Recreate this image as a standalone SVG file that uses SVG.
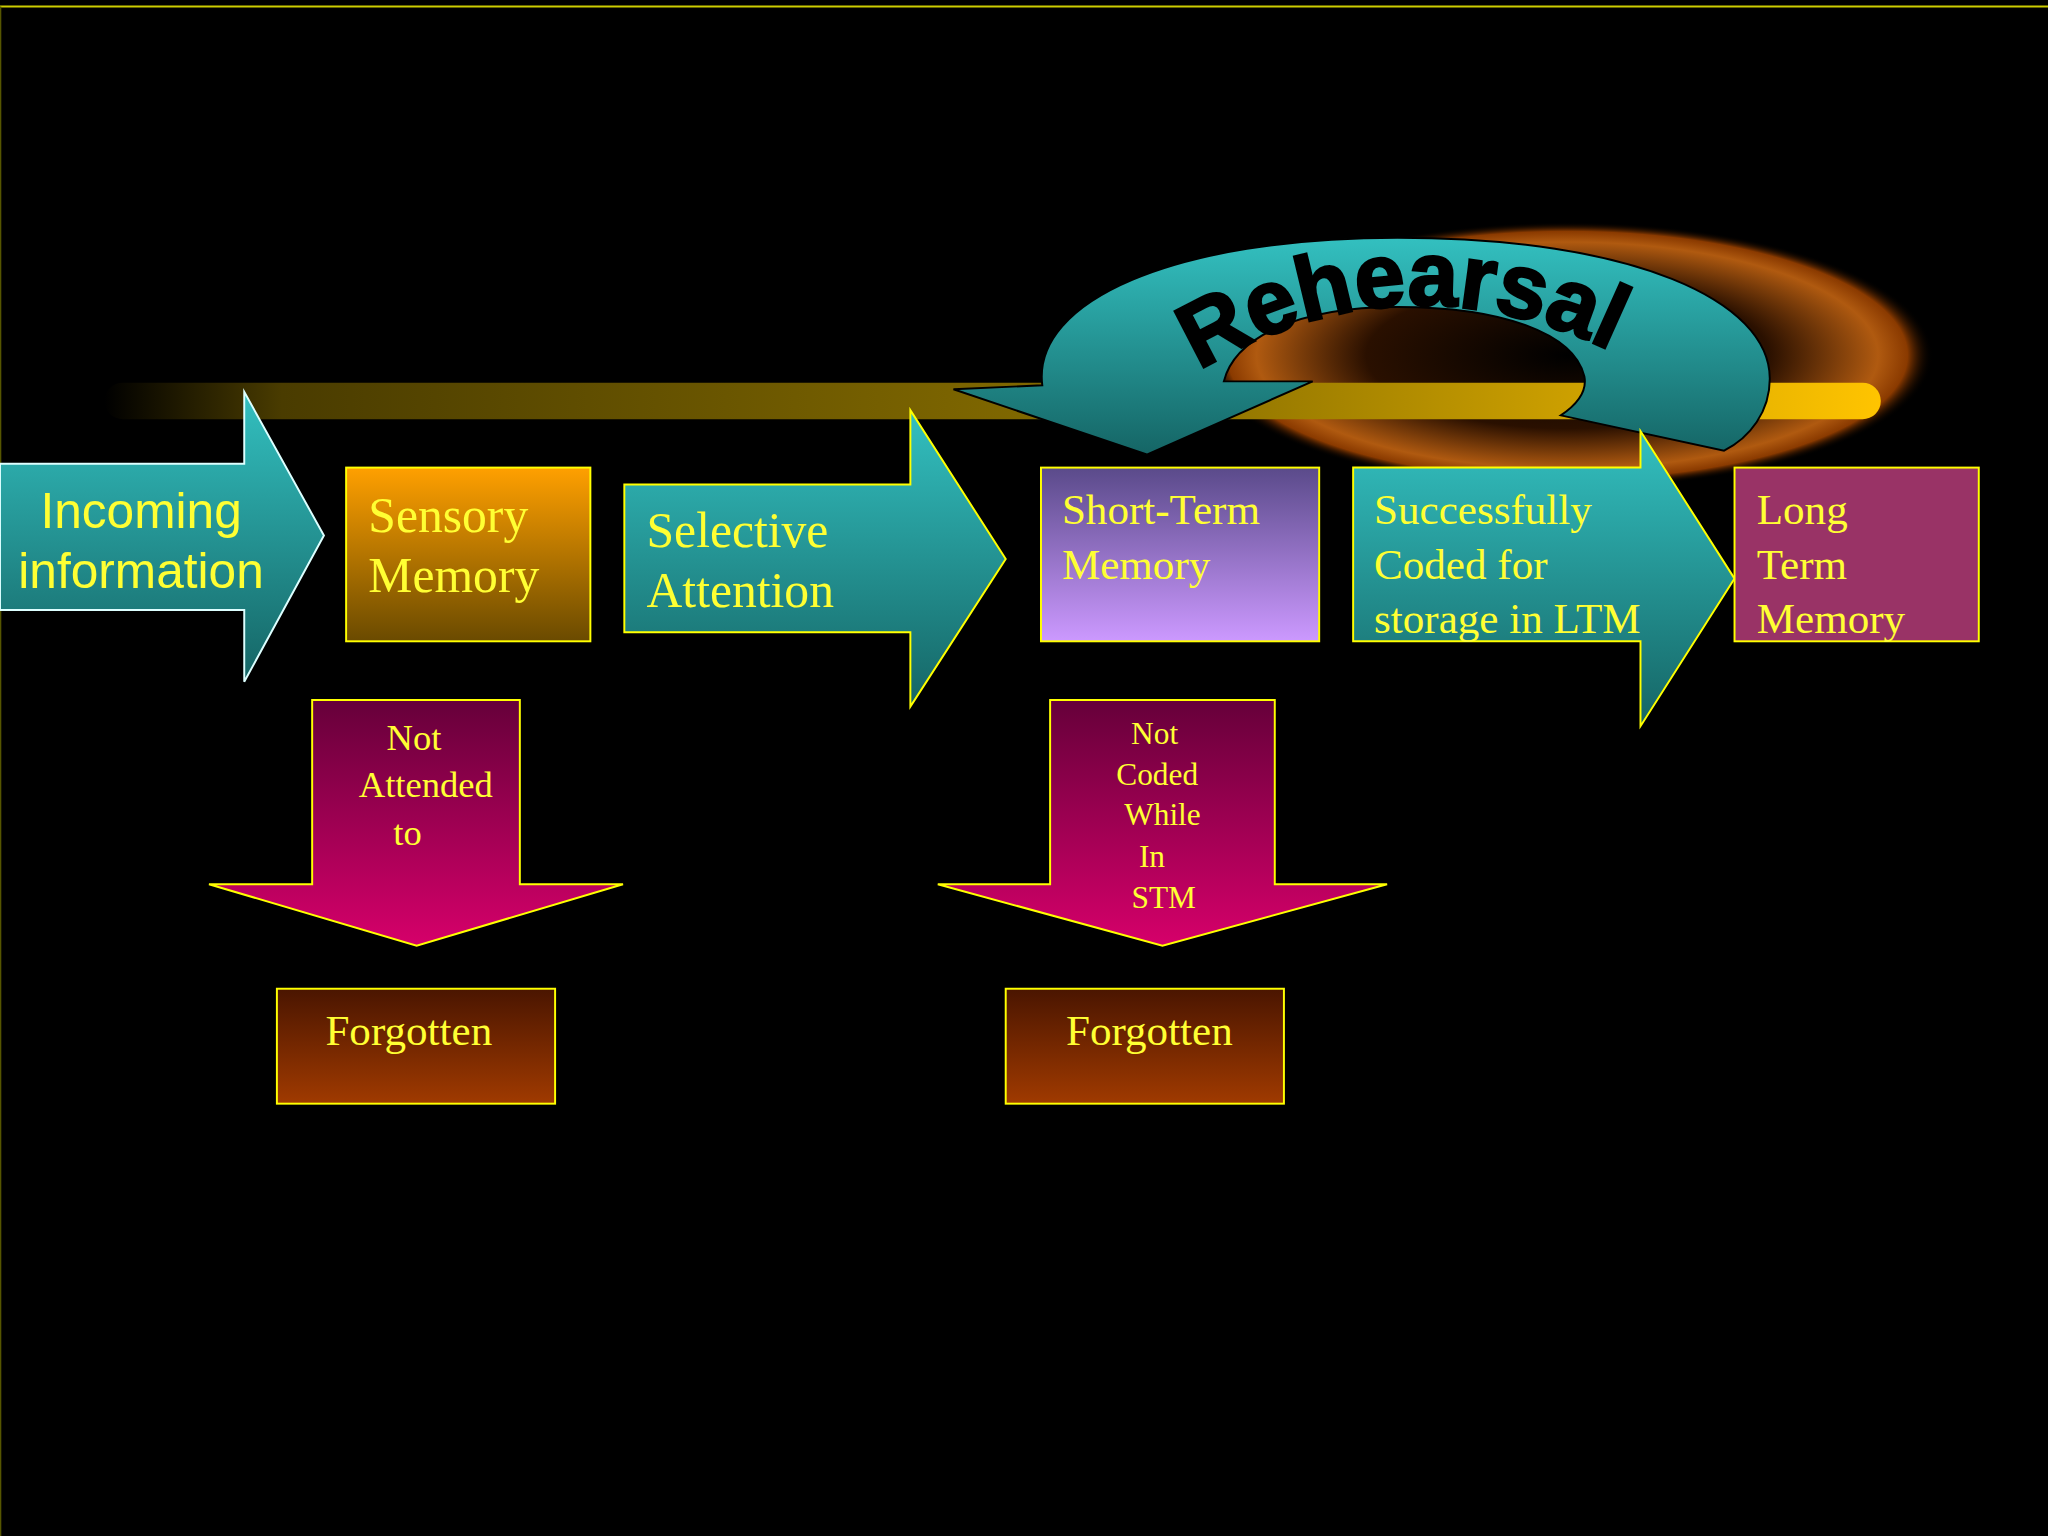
<svg xmlns="http://www.w3.org/2000/svg" width="2048" height="1536" viewBox="0 0 2048 1536">
<defs>
<linearGradient id="teal" x1="0" y1="0" x2="0" y2="1"><stop offset="0" stop-color="#33c0c0"/><stop offset="1" stop-color="#156565"/></linearGradient>
<linearGradient id="sens" x1="0" y1="0" x2="0" y2="1"><stop offset="0" stop-color="#ffa000"/><stop offset="1" stop-color="#6a4a00"/></linearGradient>
<linearGradient id="stm" x1="0" y1="0" x2="0" y2="1"><stop offset="0" stop-color="#5a4a8a"/><stop offset="1" stop-color="#cc99ff"/></linearGradient>
<linearGradient id="down" x1="0" y1="0" x2="0" y2="1"><stop offset="0" stop-color="#66003a"/><stop offset="1" stop-color="#d6006a"/></linearGradient>
<linearGradient id="forg" x1="0" y1="0" x2="0" y2="1"><stop offset="0" stop-color="#4a1500"/><stop offset="1" stop-color="#a03a00"/></linearGradient>
<linearGradient id="bar" x1="0" y1="0" x2="1" y2="0"><stop offset="0" stop-color="#000"/><stop offset="0.1" stop-color="#4a3c00"/><stop offset="0.6" stop-color="#8a7000"/><stop offset="1" stop-color="#ffc400"/></linearGradient>
<radialGradient id="glow" cx="0.5" cy="0.5" r="0.5"><stop offset="0" stop-color="#000"/><stop offset="0.55" stop-color="#2a1000"/><stop offset="0.85" stop-color="#b05a10"/><stop offset="0.93" stop-color="#8a3a00"/><stop offset="1" stop-color="#000" stop-opacity="0"/></radialGradient>
<style>
.ser{font-family:"Liberation Serif","Times New Roman",serif;fill:#ffff33}
.san{font-family:"Liberation Sans",Arial,sans-serif;fill:#ffff33}
.ys{stroke:#ffff00;stroke-width:1.5}
</style>
</defs>
<rect width="2048" height="1536" fill="#000"/>
<g transform="scale(1.30612)">
<line x1="0" y1="5" x2="1568" y2="5" stroke="#cccc00" stroke-width="1.5"/>
<line x1="0.5" y1="5" x2="0.5" y2="1176" stroke="#555500" stroke-width="1"/>
<g id="glow-bg">
<ellipse cx="1200" cy="272" rx="280" ry="102" fill="url(#glow)"/>
<rect x="80" y="293" width="1360" height="28" rx="14" fill="url(#bar)"/>
</g>
<g id="rehearsal">
<path d="M798,295 C790,230 900,182 1070,182 C1250,182 1355,230 1355,290 C1355,315 1340,335 1320,345 L1195,318 C1210,308 1215,298 1213,288 C1205,255 1150,235 1070,235 C990,235 945,260 937,292 L1005,292 L878,348 L730,298 Z" fill="url(#teal)" stroke="#000" stroke-width="1.5"/>
<path id="rp" d="M918,284 Q1075,190 1240,272" fill="none"/>
<text font-family="'Liberation Sans',Arial,sans-serif" font-weight="bold" font-size="70" fill="#000" stroke="#000" stroke-width="2"><textPath href="#rp" textLength="330" lengthAdjust="spacingAndGlyphs">Rehearsal</textPath></text>
</g>
<g id="incoming">
<polygon points="0,355 187,355 187,300 248,410 187,522 187,467 0,467" fill="url(#teal)" stroke="#ddffff" stroke-width="1.5"/>
<text class="san" font-size="38" text-anchor="middle"><tspan x="108" y="404">Incoming</tspan><tspan x="108" y="450">information</tspan></text>
</g>
<g id="sensory">
<rect x="265" y="358" width="187" height="133" fill="url(#sens)" class="ys"/>
<text class="ser" font-size="38"><tspan x="282" y="407">Sensory</tspan><tspan x="282" y="453">Memory</tspan></text>
</g>
<g id="selective">
<polygon points="478,371 697,371 697,314 770,428 697,541 697,484 478,484" fill="url(#teal)" class="ys"/>
<text class="ser" font-size="38"><tspan x="495" y="419">Selective</tspan><tspan x="495" y="465">Attention</tspan></text>
</g>
<g id="stm-box">
<rect x="797" y="358" width="213" height="133" fill="url(#stm)" class="ys"/>
<text class="ser" font-size="33"><tspan x="813" y="401">Short-Term</tspan><tspan x="813" y="443">Memory</tspan></text>
</g>
<g id="coded">
<polygon points="1036,358 1256,358 1256,330 1328,443 1256,556 1256,491 1036,491" fill="url(#teal)" class="ys"/>
<text class="ser" font-size="33"><tspan x="1052" y="401">Successfully</tspan><tspan x="1052" y="443">Coded for</tspan><tspan x="1052" y="485">storage in LTM</tspan></text>
</g>
<g id="ltm">
<rect x="1328" y="358" width="187" height="133" fill="#993366" class="ys"/>
<text class="ser" font-size="33"><tspan x="1345" y="401">Long</tspan><tspan x="1345" y="443">Term</tspan><tspan x="1345" y="485">Memory</tspan></text>
</g>
<g id="not-attended">
<polygon points="239,536 398,536 398,677 477,677 319,724 160,677 239,677" fill="url(#down)" class="ys"/>
<text class="ser" font-size="28" text-anchor="middle"><tspan x="317" y="574">Not</tspan><tspan x="326" y="610">Attended</tspan><tspan x="312" y="647">to</tspan></text>
</g>
<g id="not-coded">
<polygon points="804,536 976,536 976,677 1062,677 890,724 718,677 804,677" fill="url(#down)" class="ys"/>
<text class="ser" font-size="24" text-anchor="middle"><tspan x="884" y="570">Not</tspan><tspan x="886" y="601">Coded</tspan><tspan x="890" y="632">While</tspan><tspan x="882" y="664">In</tspan><tspan x="891" y="695">STM</tspan></text>
</g>
<g id="forgotten1">
<rect x="212" y="757" width="213" height="88" fill="url(#forg)" class="ys"/>
<text class="ser" font-size="33" x="313" y="800" text-anchor="middle">Forgotten</text>
</g>
<g id="forgotten2">
<rect x="770" y="757" width="213" height="88" fill="url(#forg)" class="ys"/>
<text class="ser" font-size="33" x="880" y="800" text-anchor="middle">Forgotten</text>
</g>
</g>
</svg>
